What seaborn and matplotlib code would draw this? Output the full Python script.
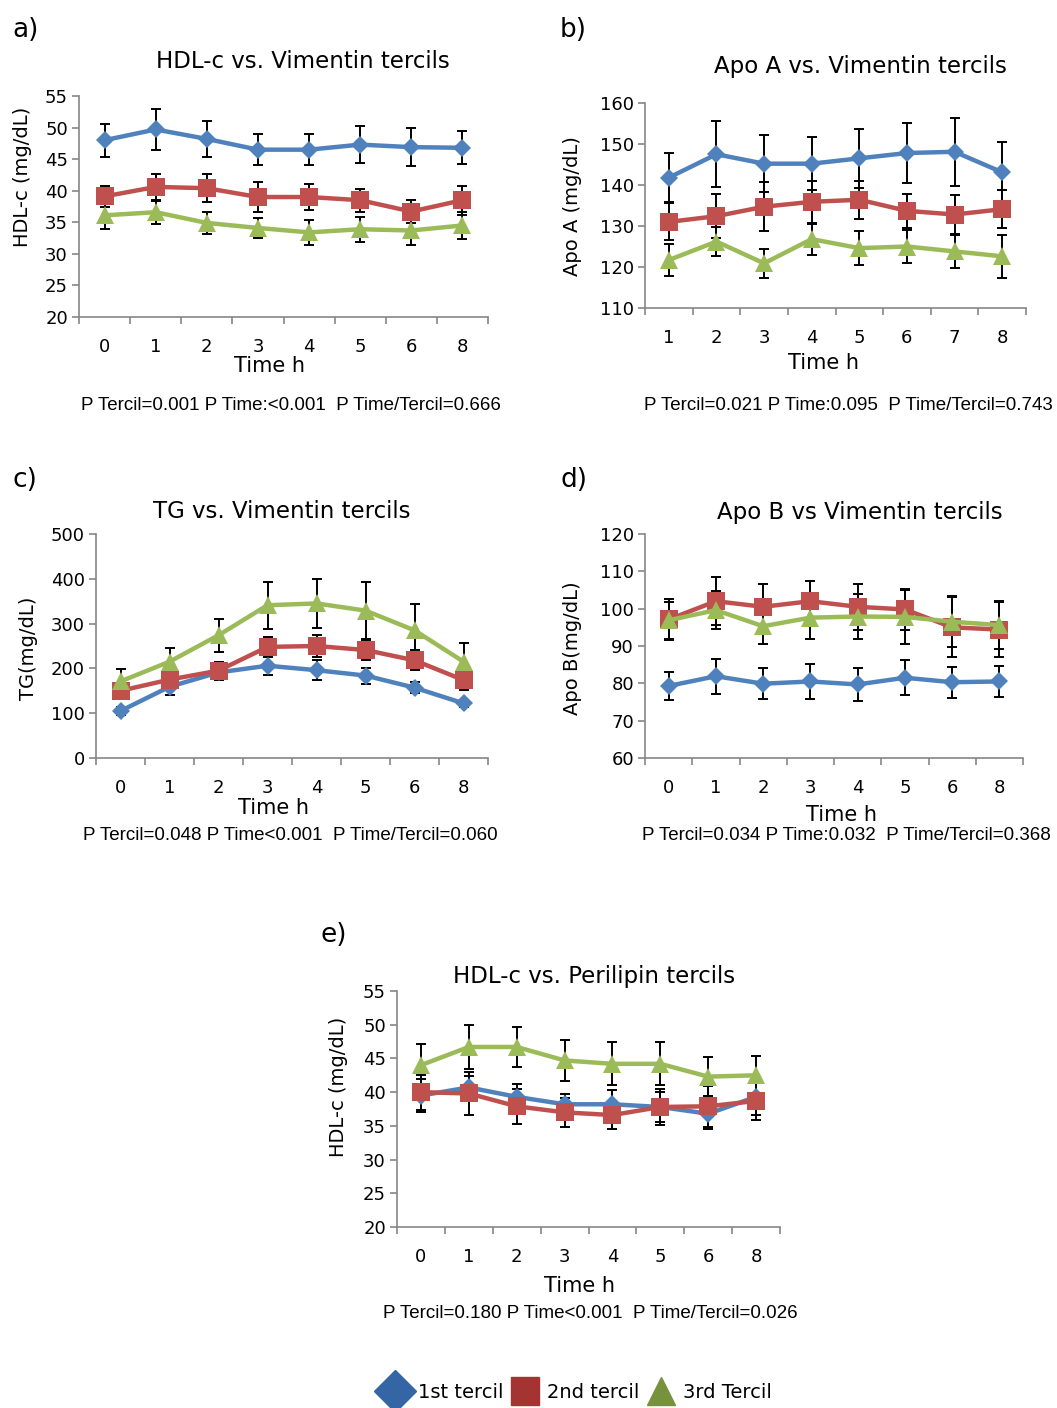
import numpy as np
import pandas as pd
import matplotlib
matplotlib.use("Agg")
import matplotlib.pyplot as plt
from matplotlib.lines import Line2D
from matplotlib.ticker import FixedLocator, NullFormatter
import seaborn as sns

sns.set_theme(style="white")
plt.rcParams['font.family'] = ['DejaVu Sans']
plt.rcParams['text.color'] = 'black'
NARROW = ['Liberation Sans', 'DejaVu Sans']

# ---------------- data ----------------
TERCILS = ["1st tercil", "2nd tercil", "3rd Tercil"]
LINE_COLORS = {"1st tercil": "#4F81BD", "2nd tercil": "#C0504D", "3rd Tercil": "#9BBB59"}
LEGEND_COLORS = {"1st tercil": "#3465A4", "2nd tercil": "#A33431", "3rd Tercil": "#76923C"}
MARKERS = {"1st tercil": "D", "2nd tercil": "s", "3rd Tercil": "^"}
MARKER_SIZES = {"1st tercil": 9, "2nd tercil": 12.5, "3rd Tercil": 13}

times_std = ["0", "1", "2", "3", "4", "5", "6", "8"]
times_apoa = ["1", "2", "3", "4", "5", "6", "7", "8"]

# a) HDL-c vs. Vimentin tercils
hdl_vim_t1 = [48.0, 49.7, 48.2, 46.5, 46.5, 47.3, 46.9, 46.8]
hdl_vim_t1_err = [2.6, 3.2, 2.9, 2.5, 2.5, 2.9, 3.0, 2.6]
hdl_vim_t2 = [39.1, 40.6, 40.4, 39.0, 39.0, 38.5, 36.7, 38.5]
hdl_vim_t2_err = [1.7, 2.0, 2.2, 2.4, 2.1, 1.8, 1.8, 2.3]
hdl_vim_t3 = [36.1, 36.6, 34.9, 34.1, 33.4, 33.9, 33.7, 34.5]
hdl_vim_t3_err = [2.1, 1.8, 1.7, 1.6, 2.0, 2.0, 2.3, 2.1]

# b) Apo A vs. Vimentin tercils
apoa_t1 = [141.8, 147.5, 145.2, 145.2, 146.5, 147.8, 148.1, 143.1]
apoa_t1_err = [5.9, 8.1, 6.9, 6.4, 7.2, 7.4, 8.3, 7.3]
apoa_t2 = [131.0, 132.4, 134.7, 135.9, 136.4, 133.7, 132.8, 134.1]
apoa_t2_err = [4.5, 5.4, 6.0, 5.1, 4.6, 4.1, 4.7, 4.7]
apoa_t3 = [121.7, 126.2, 120.9, 126.8, 124.6, 125.0, 123.8, 122.6]
apoa_t3_err = [4.0, 3.6, 3.6, 3.8, 4.1, 4.1, 4.1, 5.3]

# c) TG vs. Vimentin tercils
tg_t1 = [105, 159, 191, 206, 196, 184, 157, 122]
tg_t1_err = [8, 18, 17, 21, 22, 18, 13, 8]
tg_t2 = [150, 175, 195, 248, 250, 241, 218, 174]
tg_t2_err = [12, 15, 20, 22, 25, 22, 22, 22]
tg_t3 = [171, 215, 274, 341, 345, 329, 285, 215]
tg_t3_err = [28, 30, 37, 52, 55, 64, 58, 41]

# d) Apo B vs Vimentin tercils
apob_t1 = [79.3, 81.9, 79.9, 80.5, 79.7, 81.5, 80.3, 80.5]
apob_t1_err = [3.7, 4.7, 4.1, 4.6, 4.4, 4.7, 4.1, 4.2]
apob_t2 = [97.1, 102.0, 100.5, 102.0, 100.5, 99.8, 95.0, 94.4]
apob_t2_err = [5.4, 6.4, 6.2, 5.5, 6.2, 5.4, 8.0, 7.3]
apob_t3 = [96.9, 99.6, 95.3, 97.6, 97.9, 97.8, 96.5, 95.6]
apob_t3_err = [4.9, 5.1, 4.7, 5.6, 5.9, 7.2, 6.8, 6.5]

# e) HDL-c vs. Perilipin tercils
hdl_per_t1 = [39.5, 40.7, 39.3, 38.2, 38.2, 37.8, 36.8, 39.3]
hdl_per_t1_err = [2.5, 1.7, 1.9, 1.5, 2.1, 2.2, 2.2, 2.7]
hdl_per_t2 = [40.0, 39.8, 37.9, 37.0, 36.6, 37.8, 37.9, 38.7]
hdl_per_t2_err = [2.6, 3.2, 2.6, 2.2, 2.0, 2.7, 3.0, 2.8]
hdl_per_t3 = [44.0, 46.7, 46.7, 44.7, 44.2, 44.2, 42.3, 42.5]
hdl_per_t3_err = [3.2, 3.2, 2.9, 3.1, 3.2, 3.2, 2.9, 2.9]

PIX_W, PIX_H = 1057, 1408
fig = plt.figure(figsize=(PIX_W / 100, PIX_H / 100), dpi=100)


def axes_px(x0, y0, x1, y1):
    return fig.add_axes([x0 / PIX_W, 1 - y1 / PIX_H, (x1 - x0) / PIX_W, (y1 - y0) / PIX_H])


def draw_panel(ax, times, series, errs, ylim, ystep):
    rows = []
    for name, vals, err in zip(TERCILS, series, errs):
        for i, (t, v, e) in enumerate(zip(times, vals, err)):
            rows.append({"pos": i, "time": t, "value": v, "err": e, "tercil": name})
    df = pd.DataFrame(rows)
    for name in TERCILS:
        sub = df[df.tercil == name]
        ax.errorbar(sub.pos, sub.value, yerr=sub.err, fmt="none", ecolor="black",
                    elinewidth=1.4, capsize=3.6, capthick=1.4, zorder=1.5)
    for name in TERCILS:
        sub = df[df.tercil == name]
        sns.lineplot(data=sub, x="pos", y="value", color=LINE_COLORS[name],
                     marker=MARKERS[name], markersize=MARKER_SIZES[name],
                     markeredgewidth=0, linewidth=3.2, legend=False, ax=ax, zorder=2)
    n = len(times)
    ax.set_xlim(-0.5, n - 0.5)
    ax.set_ylim(*ylim)
    ax.set_yticks(np.arange(ylim[0], ylim[1] + ystep / 2, ystep))
    ax.set_xticks(range(n))
    ax.set_xticklabels(times)
    ax.xaxis.set_minor_locator(FixedLocator(np.arange(-0.5, n, 1.0)))
    ax.xaxis.set_minor_formatter(NullFormatter())
    ax.tick_params(axis="x", which="major", length=0, pad=15, labelsize=13, labelcolor="black")
    ax.tick_params(axis="x", which="minor", length=5, width=1.2, color="#868686", direction="out", bottom=True)
    ax.tick_params(axis="y", which="major", length=5, width=1.2, color="#868686", direction="out",
                   left=True, pad=3, labelsize=13, labelcolor="black")
    for s in ["top", "right"]:
        ax.spines[s].set_visible(False)
    for s in ["left", "bottom"]:
        ax.spines[s].set_color("#868686")
        ax.spines[s].set_linewidth(1.2)
    ax.set_xlabel("")
    ax.set_ylabel("")
    ax.grid(False)
    ax.set_facecolor("white")


# panel a
ax_a = axes_px(79, 96, 488, 317)
draw_panel(ax_a, times_std, [hdl_vim_t1, hdl_vim_t2, hdl_vim_t3],
           [hdl_vim_t1_err, hdl_vim_t2_err, hdl_vim_t3_err], (20, 55), 5)
# panel b
ax_b = axes_px(645, 103, 1026, 308)
draw_panel(ax_b, times_apoa, [apoa_t1, apoa_t2, apoa_t3],
           [apoa_t1_err, apoa_t2_err, apoa_t3_err], (110, 160), 10)
# panel c
ax_c = axes_px(96, 534, 488, 758)
draw_panel(ax_c, times_std, [tg_t1, tg_t2, tg_t3],
           [tg_t1_err, tg_t2_err, tg_t3_err], (0, 500), 100)
# panel d
ax_d = axes_px(645, 534, 1023, 758)
draw_panel(ax_d, times_std, [apob_t1, apob_t2, apob_t3],
           [apob_t1_err, apob_t2_err, apob_t3_err], (60, 120), 10)
# panel e
ax_e = axes_px(397, 991, 780, 1227)
draw_panel(ax_e, times_std, [hdl_per_t1, hdl_per_t2, hdl_per_t3],
           [hdl_per_t1_err, hdl_per_t2_err, hdl_per_t3_err], (20, 55), 5)


def ftext(x, y, s, **kw):
    kw.setdefault("ha", "center")
    kw.setdefault("va", "center")
    kw.setdefault("color", "black")
    fig.text(x / PIX_W, 1 - y / PIX_H, s, **kw)


# panel letters
for (x, y, s) in [(12, 30, "a)"), (560, 30, "b)"), (12, 480, "c)"), (560, 480, "d)"), (320, 935, "e)")]:
    ftext(x, y, s, ha="left", fontsize=19)

# titles
ftext(303, 62, "HDL-c vs. Vimentin tercils", fontsize=16.5)
ftext(860, 67, "Apo A vs. Vimentin tercils", fontsize=16.5)
ftext(282, 511, "TG vs. Vimentin tercils", fontsize=16.5)
ftext(860, 513, "Apo B vs Vimentin tercils", fontsize=16.5)
ftext(594, 976, "HDL-c vs. Perilipin tercils", fontsize=16.5)

# axis titles
for (x, y) in [(269, 366), (824, 363), (273, 808), (841, 815), (580, 1286)]:
    ftext(x, y, "Time h", fontsize=15)
ftext(23, 177, "HDL-c (mg/dL)", rotation=90, fontsize=14)
ftext(573, 206, "Apo A (mg/dL)", rotation=90, fontsize=14)
ftext(28, 648, "TG(mg/dL)", rotation=90, fontsize=14)
ftext(573, 648, "Apo B(mg/dL)", rotation=90, fontsize=14)
ftext(338, 1087, "HDL-c (mg/dL)", rotation=90, fontsize=14)

# statistics
for (x, y, s) in [
    (291, 405, "P Tercil=0.001 P Time:<0.001  P Time/Tercil=0.666"),
    (848, 405, "P Tercil=0.021 P Time:0.095  P Time/Tercil=0.743"),
    (290, 836, "P Tercil=0.048 P Time<0.001  P Time/Tercil=0.060"),
    (846, 836, "P Tercil=0.034 P Time:0.032  P Time/Tercil=0.368"),
    (590, 1314, "P Tercil=0.180 P Time<0.001  P Time/Tercil=0.026"),
]:
    ftext(x, y, s, fontsize=13.5, family=NARROW)

# shared legend
LEGEND_SIZES = {"1st tercil": 21, "2nd tercil": 20, "3rd Tercil": 20}
handles = [Line2D([], [], linestyle="none", marker=MARKERS[t], markersize=LEGEND_SIZES[t],
                  markerfacecolor=LEGEND_COLORS[t], markeredgecolor=LEGEND_COLORS[t], label=t)
           for t in TERCILS]
leg = fig.legend(handles=handles, loc="center", bbox_to_anchor=(575 / PIX_W, 1 - 1392 / PIX_H), ncol=3,
                 frameon=False, fontsize=14, handletextpad=0.25, columnspacing=0.2, handlelength=1.8)
for t in leg.get_texts():
    t.set_color("black")

fig.savefig("out.png", dpi=100, facecolor="white")
